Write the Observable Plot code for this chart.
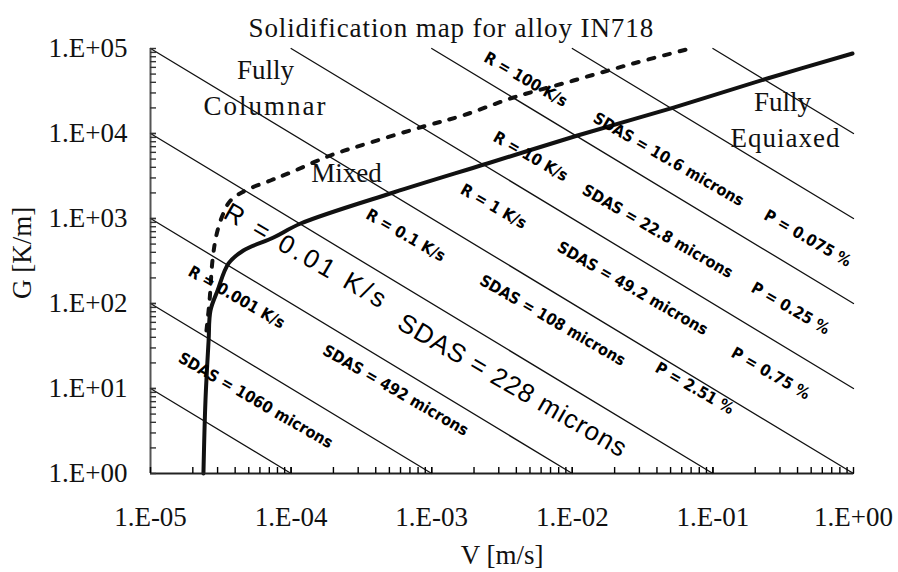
<!DOCTYPE html>
<html><head><meta charset="utf-8">
<script src="https://cdn.jsdelivr.net/npm/d3@7"></script>
<script src="https://cdn.jsdelivr.net/npm/@observablehq/plot@0.6"></script>
<style>body{margin:0;background:#fff}</style>
</head><body><div id="chart"></div>
<script>
// Iso cooling-rate lines R = G*V [K/s]
const coolingRates = [1e-4, 1e-3, 1e-2, 0.1, 1, 10, 100, 1e3, 1e4];

// Columnar-to-equiaxed boundary (solid)
const cetV = [2.38e-5, 2.46e-5, 2.59e-5, 2.67e-5, 3.0e-5, 3.59e-5, 4.58e-5, 7.5e-5, 1.17e-4, 5.35e-4, 2.49e-3, 0.0109, 0.0525, 0.244, 0.984];
const cetG = [1, 7.2, 36.7, 82.7, 142, 296, 420, 598, 873, 2023, 4440, 9470, 20200, 44400, 87300];

// Fully columnar / mixed boundary (dashed)
const mixV = [2.5e-5, 2.63e-5, 2.76e-5, 2.94e-5, 3.25e-5, 3.71e-5, 4.74e-5, 7.14e-5, 9.9e-5, 1.9e-4, 3.67e-4, 8.75e-4, 1.66e-3, 3.82e-3, 0.0102, 0.0272, 0.0693];
const mixG = [48, 108, 320, 631, 1084, 1629, 2135, 2800, 3475, 5510, 7830, 12080, 16280, 26500, 42000, 66700, 100000];

// Axis ticks
const xTickValues = [1e-5, 1e-4, 1e-3, 1e-2, 1e-1, 1];
const xTickLabels = ["1.E-05", "1.E-04", "1.E-03", "1.E-02", "1.E-01", "1.E+00"];
const yTickValues = [1, 10, 100, 1e3, 1e4, 1e5];
const yTickLabels = ["1.E+00", "1.E+01", "1.E+02", "1.E+03", "1.E+04", "1.E+05"];

// Labels along the iso-R lines
const smallLabelText = ["R = 100 K/s", "SDAS = 10.6 microns", "P = 0.075 %",
  "R = 10 K/s", "SDAS = 22.8 microns", "P = 0.25 %",
  "R = 1 K/s", "SDAS = 49.2 microns", "P = 0.75 %",
  "R = 0.1 K/s", "SDAS = 108 microns", "P = 2.51 %",
  "R = 0.001 K/s", "SDAS = 492 microns", "SDAS = 1060 microns"];
const smallLabelV = [4.65e-3, 0.0483, 0.471, 5.05e-3, 0.0404, 0.356, 2.75e-3, 0.0268, 0.257, 6.52e-4, 7.23e-3, 0.074, 4.09e-5, 5.53e-4, 5.59e-5];
const smallLabelG = [43200, 4945, 582, 5360, 703, 87.3, 1384, 150, 15.0, 631, 63.1, 10, 118, 9.47, 7.22];

const bigLabelText = ["R = 0.01 K/s", "SDAS = 228 microns"];
const bigLabelV = [1.287e-4, 3.76e-3];
const bigLabelG = [357, 10.8];

// Region names
const regionText = ["Fully", "Columnar", "Mixed", "Fully", "Equiaxed"];
const regionV = [6.58e-5, 6.58e-5, 2.48e-4, 0.313, 0.328];
const regionG = [55100, 20800, 3383, 23170, 8730];

const title = "Solidification map for alloy IN718";
const xLabel = "V [m/s]";
const yLabel = "G [K/m]";

// ---- derived tables ----
const xDomain = [1e-5, 1];
const yDomain = [1, 1e5];
const isoLines = coolingRates.flatMap(R => {
  const v1 = Math.max(xDomain[0], R / yDomain[1]);
  const v2 = Math.min(xDomain[1], R / yDomain[0]);
  return [{R, V: v1, G: R / v1}, {R, V: v2, G: R / v2}];
});
const cet = cetV.map((v, i) => ({V: v, G: cetG[i]}));
const mix = mixV.map((v, i) => ({V: v, G: mixG[i]}));
const small = smallLabelText.map((t, i) => ({t, V: smallLabelV[i], G: smallLabelG[i]}));
const big = bigLabelText.map((t, i) => ({t, V: bigLabelV[i], G: bigLabelG[i]}));
const regions = regionText.map((t, i) => ({t, V: regionV[i], G: regionG[i]}));
const minorXValues = [], minorYValues = [];
for (let e = -5; e < 0; e++) for (let k = 1; k <= 10; k++) minorXValues.push(k * 10 ** e);
for (let e = 0; e < 5; e++) for (let k = 1; k <= 10; k++) minorYValues.push(k * 10 ** e);

const W = 898, H = 572, mT = 48, mR = 45, mB = 99, mL = 150;
const tickLen = 6;
const serif = "'Liberation Serif', 'DejaVu Serif', serif";
const cond = "'Liberation Sans Narrow', 'DejaVu Sans Condensed', sans-serif";

const chart = Plot.plot({
  width: W, height: H,
  marginTop: mT, marginRight: mR, marginBottom: mB, marginLeft: mL,
  x: {type: "log", domain: xDomain, axis: null},
  y: {type: "log", domain: yDomain, axis: null},
  style: {fontFamily: serif, background: "#fff", color: "#111"},
  marks: [
    Plot.line(isoLines, {x: "V", y: "G", z: "R", stroke: "#111", strokeWidth: 1.3}),
    Plot.line(mix, {x: "V", y: "G", stroke: "#111", strokeWidth: 4, strokeDasharray: "6,10", curve: "catmull-rom"}),
    Plot.line(cet, {x: "V", y: "G", stroke: "#111", strokeWidth: 4, curve: "catmull-rom"}),
    // axis lines
    Plot.ruleX([xDomain[0]], {stroke: "#555", strokeWidth: 2}),
    Plot.ruleY([yDomain[0]], {stroke: "#222", strokeWidth: 2}),
    // inward minor ticks
    Plot.tickX(minorXValues, {x: d => d, insetTop: H - mT - mB - tickLen, stroke: "#000", strokeWidth: 1.4}),
    Plot.tickY(minorYValues, {y: d => d, insetRight: W - mL - mR - tickLen, stroke: "#333", strokeWidth: 1.4}),
    Plot.text(xTickValues, {x: d => d, text: d => xTickLabels[xTickValues.indexOf(d)], frameAnchor: "bottom", lineAnchor: "middle", dy: 44, fontSize: 27, fill: "#111"}),
    Plot.text(yTickValues, {y: d => d, text: d => yTickLabels[yTickValues.indexOf(d)], frameAnchor: "left", lineAnchor: "middle", dx: -23, textAnchor: "end", fontSize: 27, fill: "#111"}),
    Plot.text([xLabel], {frameAnchor: "bottom", lineAnchor: "middle", dy: 82, fontSize: 27, fill: "#111"}),
    Plot.text([yLabel], {frameAnchor: "left", textAnchor: "middle", lineAnchor: "middle", dx: -128, dy: -8, rotate: -90, fontSize: 27, fill: "#111"}),
    Plot.text([title], {frameAnchor: "top-left", lineAnchor: "middle", dx: 98, dy: -20, textAnchor: "start", fontSize: 27, fill: "#111"}),
    Plot.text(regions, {x: "V", y: "G", text: "t", fontSize: 27, fill: "#111"}),
    Plot.text(small, {x: "V", y: "G", text: "t", rotate: 30, fontSize: 16, fontWeight: "bold", fontFamily: cond, fill: "#000"}),
    Plot.text(big, {x: "V", y: "G", text: "t", rotate: 30, fontSize: 26, fontFamily: "'Liberation Sans', Arial, sans-serif", fill: "#000"})
  ]
});
// letter spacing (not a Plot text option)
const spacing = new Map([[title, "0.9px"], ["Columnar", "2px"], ["Equiaxed", "1px"], ["R = 0.01 K/s", "3.5px"], ["SDAS = 228 microns", "1px"]]);
d3.select(chart).selectAll("text").each(function () {
  const s = spacing.get(this.textContent);
  if (s) this.setAttribute("letter-spacing", s);
});
document.getElementById("chart").appendChild(chart);
</script>
</body></html>
